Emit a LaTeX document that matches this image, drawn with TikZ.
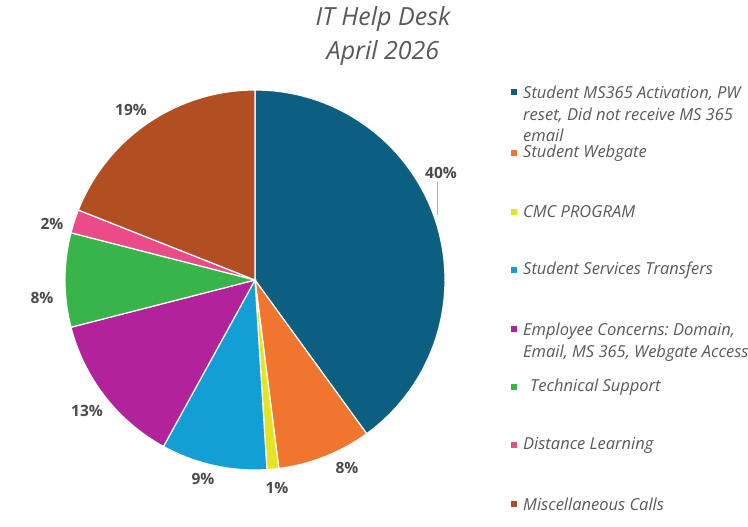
\documentclass[tikz,border=0pt]{standalone}
\usepackage{fontspec}
\setmainfont{Open Sans}
\usetikzlibrary{positioning}
\frenchspacing
\definecolor{msblue}{HTML}{0D5F82}
\definecolor{webgate}{HTML}{F07630}
\definecolor{cmcyellow}{HTML}{E6E324}
\definecolor{sstcyan}{HTML}{139FD6}
\definecolor{emppurple}{HTML}{B2229A}
\definecolor{techgreen}{HTML}{39B44A}
\definecolor{dlpink}{HTML}{EC4B8A}
\definecolor{miscbrown}{HTML}{B14E22}
\definecolor{labelgray}{HTML}{4A4A4A}
\definecolor{leggray}{HTML}{595959}

\begin{document}
\begin{tikzpicture}[x=1pt,y=1pt]
	\tikzstyle{pct}=[font=\fontsize{15.5}{17}\selectfont\bfseries, text=labelgray, inner sep=0pt]
	\tikzstyle{title}=[font=\fontsize{25}{28}\selectfont\itshape, text=leggray, inner sep=0pt]
	\tikzstyle{legtext}=[font=\fontsize{16.5}{21.5}\selectfont\itshape, text=leggray, align=left, inner sep=0pt]
	\tikzstyle{legmark}=[minimum size=6pt, inner sep=0pt]
	\useasboundingbox (0,0) rectangle (748,527);
	
	% title
	\node[title] (title1) at (383,508) {IT Help Desk};
	\node[title] (title2) at (383,474) {April 2026};
	
	% pie
	\coordinate (ctr) at (255,247);
	\foreach \a/\b/\c in {90/-54/msblue, -54/-82.8/webgate, -82.8/-86.4/cmcyellow,
		-86.4/-118.8/sstcyan, -118.8/-165.6/emppurple, -165.6/-194.4/techgreen,
		-194.4/-201.6/dlpink, -201.6/-270/miscbrown}
		\fill[\c, draw=white, line width=1.2pt] (ctr) -- ++(\a:190) arc (\a:\b:190) -- cycle;
	
	% percentages
	\node[pct] (p40) at (441,354) {40\%};
	\node[pct] (p8a) at (347,59) {8\%};
	\node[pct] (p1) at (277,39) {1\%};
	\node[pct] (p9) at (203,48) {9\%};
	\node[pct] (p13) at (87,116) {13\%};
	\node[pct] (p8b) at (42,229) {8\%};
	\node[pct] (p2) at (52,303) {2\%};
	\node[pct] (p19) at (131,417) {19\%};
	\coordinate (c40) at (437,312);
	\draw[gray!60, line width=0.8pt] (p40.south -| c40) ++(0,-3) -- (c40);
	
	% legend
	\foreach \y/\c in {435/msblue, 374/webgate, 315/cmcyellow, 257/sstcyan,
		198/emppurple, 140/techgreen, 82/dlpink, 23/miscbrown}
		\node[legmark, fill=\c] (m\c) at (514,\y) {};
	\node[legtext, anchor=north west] (lms) at (523,441) {Student MS365 Activation, PW\\reset, Did not receive MS 365\\email};
	\node[legtext, anchor=west] (lweb) at (523,374) {Student Webgate};
	\node[legtext, anchor=west] (lcmc) at (523,315) {CMC PROGRAM};
	\node[legtext, anchor=west] (lsst) at (523,257) {Student Services Transfers};
	\node[legtext, anchor=north west] (lemp) at (523,204) {Employee Concerns: Domain,\\Email, MS 365, Webgate Access};
	\node[legtext, anchor=west] (ltech) at (530,140) {Technical Support};
	\node[legtext, anchor=west] (ldl) at (523,82) {Distance Learning};
	\node[legtext, anchor=west] (lmisc) at (523,23) {Miscellaneous Calls};
\end{tikzpicture}
\end{document}
